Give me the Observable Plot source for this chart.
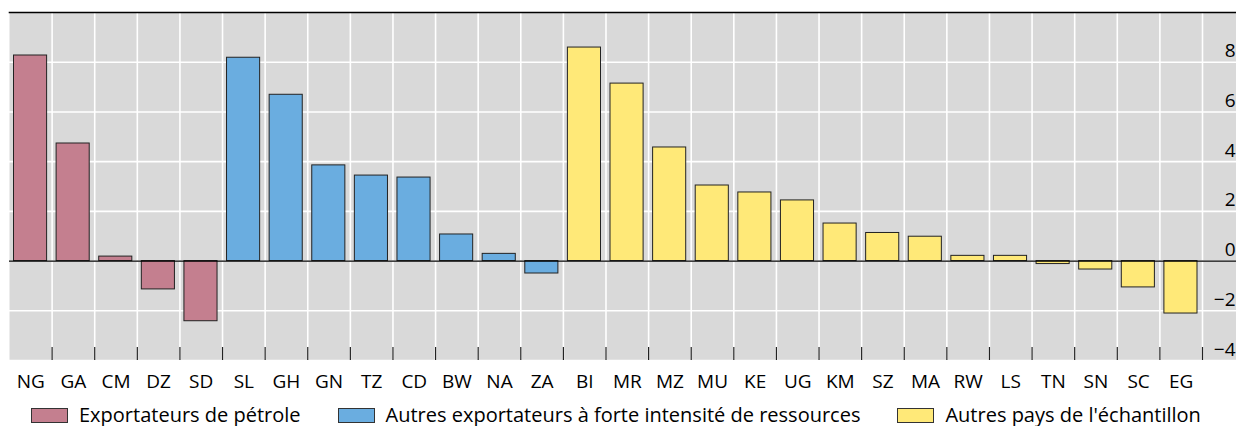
<!DOCTYPE html>
<html>
<head>
<meta charset="utf-8">
<script src="https://cdn.jsdelivr.net/npm/d3@7"></script>
<script src="https://cdn.jsdelivr.net/npm/@observablehq/plot@0.6"></script>
<style>
  html, body { margin: 0; padding: 0; background: #fff; }
  body { width: 1236px; height: 426px; overflow: hidden; font-family: "Open Sans", sans-serif; }
  #legend { display: flex; align-items: center; gap: 37px; padding-left: 31px; padding-top: 6px; font-size: 20px; color: #000; line-height: 26px; }
  .item { display: flex; align-items: center; white-space: nowrap; }
  .sw { width: 35px; height: 13px; border: 1px solid #333; margin-right: 11px; }
</style>
</head>
<body>
<div id="chart"></div>
<div id="legend"></div>
<script>
// ---- Data ----
const categories = ["NG","GA","CM","DZ","SD","SL","GH","GN","TZ","CD","BW","NA","ZA","BI","MR","MZ","MU","KE","UG","KM","SZ","MA","RW","LS","TN","SN","SC","EG"];
const values = [8.27, 4.73, 0.18, -1.14, -2.42, 8.18, 6.69, 3.85, 3.44, 3.36, 1.07, 0.29, -0.50, 8.59, 7.14, 4.57, 3.04, 2.76, 2.44, 1.51, 1.13, 0.98, 0.21, 0.21, -0.12, -0.34, -1.06, -2.11];
const oilExporters = ["NG","GA","CM","DZ","SD"];
const resourceIntensive = ["SL","GH","GN","TZ","CD","BW","NA","ZA"];
const groupNames = ["Exportateurs de pétrole", "Autres exportateurs à forte intensité de ressources", "Autres pays de l'échantillon"];
const groupColors = ["#C47F8F", "#6AADE0", "#FFE978"];
const yTicks = [-4, -2, 0, 2, 4, 6, 8];
const yDomain = [-4, 10];

const table = categories.map((c, i) => ({
  country: c,
  value: values[i],
  group: oilExporters.includes(c) ? groupNames[0] : resourceIntensive.includes(c) ? groupNames[1] : groupNames[2]
}));

// ---- Layout ----
const W = 1236, H = 396;
const mTop = 12, mBottom = 36, mLeft = 9;
const xRange = [9, 1202];
const step = (xRange[1] - xRange[0]) / categories.length;
const plotH = H - mTop - mBottom;

const chart = Plot.plot({
  width: W,
  height: H,
  marginTop: mTop,
  marginBottom: mBottom,
  marginLeft: mLeft,
  marginRight: 0,
  style: { fontFamily: "'Open Sans', sans-serif", fontSize: "18px", color: "#000", background: "transparent" },
  x: { domain: categories, range: xRange, padding: 0, round: false, label: null },
  y: { domain: yDomain, label: null },
  color: { domain: groupNames, range: groupColors },
  marks: [
    Plot.frame({ fill: "#D9D9D9", stroke: null }),
    Plot.gridY({ ticks: yTicks, stroke: "#fff", strokeOpacity: 1, strokeWidth: 1.6 }),
    Plot.ruleX(categories, { x: d => d, dx: step / 2, stroke: "#fff", strokeWidth: 1.6 }),
    Plot.ruleX(categories, { x: d => d, dx: step / 2, stroke: "#222", strokeWidth: 1.2, insetTop: plotH - 13 }),
    Plot.barY(table, { x: "country", y: "value", fill: "group", stroke: "#222", strokeWidth: 1, insetLeft: 4.5, insetRight: 5 }),
    Plot.ruleY([0], { stroke: "#000", strokeWidth: 1.3 }),
    Plot.frame({ anchor: "top", stroke: "#000", strokeWidth: 1.6 }),
    Plot.axisX({ tickSize: 0, tickPadding: 14, fontSize: 19 }),
    Plot.axisY({ anchor: "right", ticks: yTicks, tickSize: 0, tickPadding: 0, textAnchor: "end", dx: -1, dy: -11, fontSize: 19, tickFormat: d => d < 0 ? "\u2212" + Math.abs(d) : String(d) })
  ]
});
document.getElementById("chart").appendChild(chart);

const legend = document.getElementById("legend");
groupNames.forEach((name, i) => {
  const item = document.createElement("div");
  item.className = "item";
  const sw = document.createElement("div");
  sw.className = "sw";
  sw.style.background = groupColors[i];
  const label = document.createElement("span");
  label.textContent = name;
  item.appendChild(sw);
  item.appendChild(label);
  legend.appendChild(item);
});
</script>
</body>
</html>
